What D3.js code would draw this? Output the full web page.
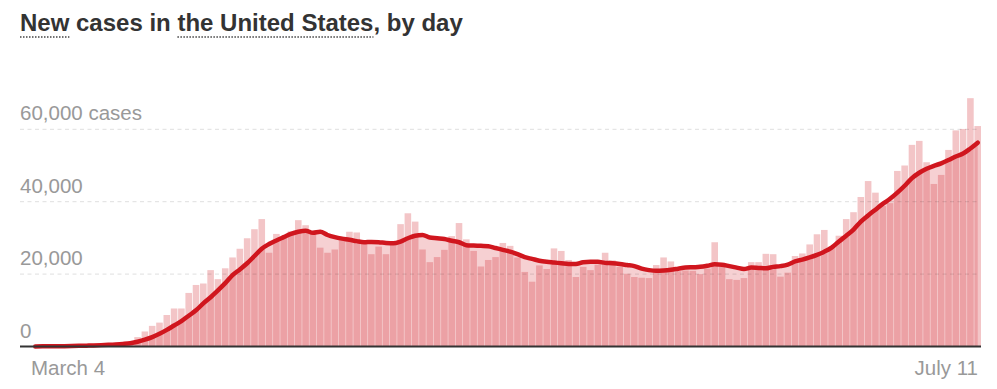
<!DOCTYPE html>
<html><head><meta charset="utf-8">
<script src="https://cdn.jsdelivr.net/npm/d3@7"></script>
<style>
body{margin:0;background:#fff;}
svg{display:block;font-family:"Liberation Sans",Arial,Helvetica,sans-serif;}
</style>
</head><body>
<svg id="chart" width="997" height="389"></svg>
<script>
// Categories: each day from March 4 to July 11
const days = d3.timeDay.range(new Date(2020, 2, 4), new Date(2020, 6, 12));

// New cases per day (bars)
const newCases = [
  20, 40, 60, 90, 110, 150, 240, 330, 420, 520,
  620, 750, 900, 1200, 2600, 4150, 5700, 6600, 8700, 10500,
  10500, 14800, 17000, 17400, 21100, 18600, 21600, 24600, 27000, 29900,
  32400, 35200, 25900, 31100, 30200, 31800, 34900, 33500, 31500, 27300,
  25900, 26800, 29400, 31700, 31500, 28500, 25500, 27600, 25500, 28500,
  33800, 36800, 34500, 26800, 23300, 24700, 26700, 30500, 34100, 29600,
  26400, 22100, 23900, 24700, 28600, 27800, 24600, 20600, 17900, 22400,
  21400, 27100, 26400, 23900, 19200, 22000, 21100, 22600, 25900, 23800,
  22000, 20100, 19200, 19000, 18900, 22500, 24600, 23500, 20800, 21000,
  20900, 20000, 21500, 28800, 22000, 18600, 18400, 18900, 23300, 23300,
  25600, 25500, 19300, 20400, 25000, 25700, 28200, 31000, 32200, 27600,
  30600, 35200, 37100, 41300, 45700, 42500, 38800, 39600, 48500, 50000,
  55700, 56800, 50900, 44900, 47400, 54300, 59700, 60100, 68600, 60900
];

// Seven-day average line
const avg7 = [
  20, 40, 60, 80, 100, 130, 180, 240, 300, 380,
  460, 560, 700, 900, 1300, 1900, 2600, 3500, 4600, 5800,
  7000, 8500, 10000, 11900, 13600, 15500, 17500, 19700, 21300, 23000,
  25000, 27000, 28300, 29300, 30200, 31100, 31700, 32000, 31400, 31700,
  30800, 30200, 29800, 29500, 29100, 28800, 28900, 28800, 28600, 28500,
  29000, 29900, 30600, 30800, 30100, 29900, 29700, 29200, 28800, 28000,
  27900, 27800, 27700, 27200, 26700, 26200, 25500, 24700, 24200, 23700,
  23400, 23200, 23000, 22800, 22800, 23300, 23400, 23400, 23100, 23000,
  22800, 22500, 22200, 21500, 21100, 20900, 21000, 21200, 21500, 21800,
  21900, 22000, 22300, 22700, 22600, 22200, 21800, 21400, 21800, 21700,
  21600, 22000, 22200, 22600, 23500, 24000, 24600, 25300, 26200, 27300,
  29000, 30600, 32300, 34500, 36200, 37800, 39400, 40800, 42500, 44400,
  46500, 48000, 49100, 49900, 50600, 51500, 52500, 53300, 54700, 56300
];

const yTicks = [0, 20000, 40000, 60000];
const yTickLabels = ["0", "20,000", "40,000", "60,000 cases"];
const xTickLabels = ["March 4", "July 11"];
const titleText = "New cases in the United States, by day";

const data = days.map((d, i) => ({date: d, cases: newCases[i], avg: avg7[i]}));

const svg = d3.select("#chart");
const x = d3.scaleBand().domain(days).range([32, 981]).paddingInner(0.1).paddingOuter(0);
const y = d3.scaleLinear().domain([0, 60000]).range([346.5, 129.3]);
const bw = x.bandwidth();
const cx = d => x(d.date) + bw / 2;

// bars (light)
svg.append("g").selectAll("rect").data(data).join("rect")
  .attr("x", d => x(d.date)).attr("width", bw)
  .attr("y", d => y(d.cases)).attr("height", d => y(0) - y(d.cases))
  .attr("fill", "#f3c5c7");

// area under average (translucent red)
const area = d3.area().x(cx).y0(y(0)).y1(d => y(d.avg)).curve(d3.curveMonotoneX);
svg.append("path").datum(data).attr("d", area)
  .attr("fill", "#d0161e").attr("fill-opacity", 0.2);

// gridlines
svg.append("g").selectAll("line").data(yTicks.filter(t => t > 0)).join("line")
  .attr("x1", 20).attr("x2", 980)
  .attr("y1", d => y(d)).attr("y2", d => y(d))
  .attr("stroke", "#000").attr("stroke-opacity", 0.13)
  .attr("stroke-width", 1).attr("stroke-dasharray", "4,3.5");

// y labels
svg.append("g").selectAll("text").data(yTicks).join("text")
  .attr("x", 20).attr("y", d => y(d) - 9)
  .attr("font-size", "20.5px").attr("fill", "#999")
  .text((d, i) => yTickLabels[i]);

// average line
const line = d3.line().x(cx).y(d => y(d.avg)).curve(d3.curveMonotoneX);
svg.append("path").datum(data).attr("d", line)
  .attr("fill", "none").attr("stroke", "#d0161e").attr("stroke-width", 4.5)
  .attr("stroke-linecap", "round").attr("stroke-linejoin", "round");

// baseline
svg.append("line").attr("x1", 20).attr("x2", 981)
  .attr("y1", y(0)).attr("y2", y(0))
  .attr("stroke", "#333").attr("stroke-width", 2);

// x labels
svg.append("text").attr("x", x(days[0]) - 1).attr("y", 375)
  .attr("font-size", "20.5px").attr("fill", "#999").text(xTickLabels[0]);
svg.append("text").attr("x", x(days[days.length - 1]) + bw - 3).attr("y", 375)
  .attr("text-anchor", "end")
  .attr("font-size", "20.5px").attr("fill", "#999").text(xTickLabels[1]);

// title
const title = svg.append("text").attr("x", 20).attr("y", 31)
  .attr("font-size", "24px").attr("font-weight", "bold").attr("fill", "#333")
  .text(titleText);
const tn = title.node();
function underline(startIdx, endIdx) {
  const x1 = tn.getStartPositionOfChar(startIdx).x;
  const x2 = tn.getEndPositionOfChar(endIdx).x;
  svg.append("line").attr("x1", x1).attr("x2", x2).attr("y1", 37).attr("y2", 37)
    .attr("stroke", "#444").attr("stroke-width", 1.5).attr("stroke-dasharray", "1.5,1.5");
}
underline(0, 2);
const s = titleText.indexOf("the United States");
underline(s, s + "the United States".length - 1);
</script>
</body></html>
